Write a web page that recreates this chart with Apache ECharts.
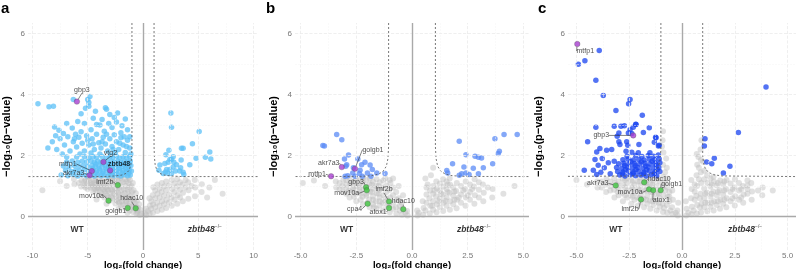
<!DOCTYPE html>
<html>
<head>
<meta charset="utf-8">
<script src="https://cdn.jsdelivr.net/npm/echarts@6/dist/echarts.min.js"></script>
<style>
  html, body { margin: 0; padding: 0; background: #fff; }
  #chart { width: 799px; height: 269px; }
</style>
</head>
<body>
<div id="chart"></div>
<script>
// ---- tick labels ----
var aXTicks = [-10, -5, 0, 5, 10];
var aXMinor = [-7.5, -2.5, 2.5, 7.5];
var bcXTicks = [-5, -2.5, 0, 2.5, 5];
var bcXMinor = [-3.75, -1.25, 1.25, 3.75];
var yTicks = [0, 2, 4, 6];
var yMinor = [1, 3, 5];

// ---- panel a ----
var aGrey = [
  [-0.3,0.05],[-0.25,0.22],[-0.35,0.4],[-0.15,0.1],[-0.5,0.12],[-0.6,0.1],[-0.62,0.32],[-0.55,0.52],[-0.65,0.76],
  [-0.9,0.15],[-0.88,0.36],[-0.95,0.6],[-0.85,0.86],[-0.92,1.1],[-1.2,0.2],[-1.25,0.46],[-1.15,0.7],[-1.22,0.96],[-1.18,1.2],
  [-1.6,0.28],[-1.55,0.5],[-1.65,0.76],[-1.58,1.0],[-1.62,1.22],[-2.0,0.36],[-2.05,0.6],[-1.95,0.86],[-2.02,1.1],[-2.08,1.26],
  [-2.5,0.43],[-2.45,0.66],[-2.55,0.9],[-2.48,1.12],[-2.52,1.27],[-3.0,0.52],[-2.95,0.76],[-3.05,0.98],[-3.0,1.2],
  [-3.5,0.62],[-3.45,0.83],[-3.55,1.05],[-3.5,1.24],[-4.0,0.7],[-4.05,0.92],[-3.95,1.12],[-4.0,1.26],
  [-4.5,0.8],[-4.55,1.0],[-4.45,1.2],[-5.0,0.9],[-5.05,1.08],[-4.95,1.25],[-5.6,0.98],[-5.55,1.18],[-6.2,1.06],[-6.25,1.23],
  [-6.9,1.0],[-9.1,0.86],[-7.5,1.16],[-4.2,0.56],[-3.3,0.42],[-2.2,0.25],[-1.4,0.12],
  [-1.8,0.4],[-2.3,0.5],[-2.75,0.6],[-3.25,0.68],[-3.75,0.78],[-4.25,0.86],[-4.75,0.95],[-5.3,1.02],
  [-1.4,0.64],[-1.85,0.72],[-2.25,0.78],[-2.75,0.84],[-3.25,0.9],[-3.75,0.96],[-4.25,1.04],[-4.75,1.1],[-5.3,1.15],
  [-1.4,0.88],[-1.8,1.12],[-2.25,1.0],[-2.75,1.04],[-3.25,1.1],[-3.75,1.16],[-4.3,1.2],[-2.3,1.18],[-2.8,1.22],
  [-1.1,0.55],[-0.75,0.45],[-0.45,0.28],
  [-0.5,0.2],[-0.7,0.25],[-0.8,0.55],[-1.0,0.3],[-1.0,0.8],[-1.05,1.0],[-1.3,0.35],[-1.35,0.8],[-1.3,1.1],[-1.5,0.45],
  [-1.7,0.6],[-1.75,0.9],[-1.5,1.15],[-1.9,0.5],[-2.15,0.45],[-2.15,0.7],[-2.15,0.95],[-2.4,0.55],[-2.6,0.75],[-2.4,0.85],
  [-2.65,1.15],[-2.9,0.65],[-2.9,0.9],[-3.1,0.6],[-3.15,0.85],[-3.4,0.75],[-3.4,0.95],[-3.6,0.9],[-3.65,1.12],[-3.9,0.82],
  [-3.9,1.02],[-4.15,0.95],[-4.4,0.9],[-4.4,1.1],[-4.65,1.05],[-4.85,1.18],[-5.2,0.95],[-5.2,1.2],[-5.8,1.1],[-3.0,1.28],
  [-2.0,1.29],[-1.3,1.28],
  [0.3,0.05],[0.28,0.25],[0.15,0.1],[0.6,0.1],[0.62,0.35],[0.58,0.6],[0.9,0.12],[0.92,0.4],[0.88,0.7],[0.94,0.96],
  [1.3,0.18],[1.28,0.45],[1.32,0.75],[1.3,1.05],[1.7,0.22],[1.72,0.5],[1.68,0.8],[1.7,1.1],
  [2.1,0.28],[2.12,0.55],[2.08,0.86],[2.1,1.15],[2.6,0.35],[2.58,0.62],[2.62,0.9],[2.6,1.2],
  [3.1,0.42],[3.12,0.7],[3.08,0.98],[3.1,1.23],[3.6,0.5],[3.62,0.78],[3.58,1.05],[4.1,0.58],[4.12,0.86],[4.08,1.12],
  [4.7,0.66],[4.72,0.95],[4.68,1.2],[5.3,0.8],[5.32,1.06],[6.0,0.95],[7.2,0.75],[6.5,1.2],[5.8,0.62],
  [1.1,0.3],[1.5,0.35],[1.9,0.4],[2.35,0.46],[2.85,0.55],[3.35,0.62],[1.5,0.62],[1.9,0.68],[2.35,0.72],[2.85,0.8],
  [3.35,0.88],[3.85,0.95],[1.5,0.92],[1.9,0.98],[2.35,1.02],[2.85,1.08],[3.35,1.12],[3.85,1.2],[4.4,1.0],
  [0.45,0.18],[0.75,0.25],[0.75,0.5],[1.1,0.6],[1.1,0.85]
];
var aBlue = [
  [-9.5,3.7],[-8.5,3.6],[-8.1,3.62],[-6.3,3.84],[-4.8,3.94],[-5.0,3.84],[-4.9,3.74],[-4.9,3.62],[-5.6,3.37],[-3.4,3.57],
  [-3.3,3.52],[-2.3,3.4],[-3.9,3.0],[-1.2,2.62],[-8.0,2.94],[-7.6,2.83],[-6.9,3.05],[-6.4,2.9],[-5.9,3.12],[-5.3,3.05],
  [-4.5,3.22],[-4.2,3.02],[-3.7,3.18],[-3.1,3.05],[-2.8,2.92],[-2.4,3.1],[-1.9,2.98],[-1.6,3.2],[-5.6,2.78],[-4.7,2.85],
  [-3.5,2.8],[-2.0,2.75],[-7.2,2.72],[-6.1,2.7],[-1.4,2.85],[-4.3,3.45],[-3.0,3.35],[-2.6,3.25],[-5.2,3.55],
  [-8.2,2.45],[-7.8,2.2],[-7.5,2.55],[-7.1,2.35],[-6.8,2.62],[-6.6,2.15],[-6.3,2.45],[-6.0,2.28],[-5.8,2.6],[-5.5,2.4],
  [-5.3,2.15],[-5.1,2.65],[-4.9,2.35],[-4.6,2.55],[-4.4,2.2],[-4.2,2.7],[-4.0,2.42],[-3.8,2.25],[-3.6,2.6],[-3.4,2.38],
  [-3.2,2.15],[-3.0,2.55],[-2.8,2.3],[-2.6,2.68],[-2.4,2.45],[-2.2,2.2],[-2.0,2.58],[-1.8,2.35],[-1.6,2.1],[-1.4,2.5],
  [-1.2,2.25],[-1.1,2.05],[-7.3,2.05],[-6.9,1.95],[-5.7,2.05],[-4.7,2.08],[-3.9,2.05],[-2.9,2.02],[-2.5,2.1],[-1.5,2.3],
  [-6.2,2.55],[-5.0,2.5],[-3.3,2.7],[-2.1,2.4],[-1.7,2.62],[-8.6,2.25],[-7.9,2.65],[-4.5,2.38],[-3.7,2.45],[-2.7,2.2],
  [-7.4,1.36],[-6.8,1.34],[-6.3,1.38],[-5.9,1.33],[-5.5,1.37],[-5.1,1.34],[-4.7,1.36],[-4.4,1.33],[-4.1,1.37],[-3.8,1.34],
  [-3.5,1.36],[-3.2,1.33],[-2.9,1.37],[-2.6,1.34],[-2.3,1.36],[-2.0,1.33],[-1.7,1.37],[-1.4,1.34],[-1.15,1.36],
  [-7.0,1.52],[-6.5,1.48],[-6.1,1.51],[-5.7,1.49],[-5.3,1.53],[-4.9,1.48],[-4.5,1.52],[-4.2,1.49],[-3.9,1.51],[-3.6,1.48],
  [-3.3,1.52],[-3.0,1.5],[-2.7,1.48],[-2.4,1.52],[-2.1,1.49],[-1.8,1.51],[-1.5,1.48],[-1.25,1.52],[-1.05,1.49],
  [-7.2,1.66],[-6.7,1.63],[-6.2,1.67],[-5.8,1.64],[-5.4,1.66],[-5.0,1.63],[-4.6,1.67],[-4.3,1.64],[-4.0,1.66],[-3.7,1.63],
  [-3.4,1.67],[-3.1,1.64],[-2.8,1.66],[-2.5,1.63],[-2.2,1.67],[-1.9,1.64],[-1.6,1.66],[-1.3,1.63],[-1.1,1.67],
  [-6.9,1.79],[-6.4,1.82],[-5.9,1.78],[-5.5,1.81],[-5.1,1.79],[-4.7,1.82],[-4.4,1.78],[-4.1,1.81],[-3.8,1.79],[-3.5,1.82],
  [-3.2,1.78],[-2.9,1.81],[-2.6,1.79],[-2.3,1.82],[-2.0,1.78],[-1.7,1.81],[-1.4,1.79],[-1.15,1.82],
  [-6.0,1.95],[-5.3,1.97],[-4.9,1.93],[-4.5,1.96],[-4.2,1.94],[-3.7,1.97],[-3.3,1.93],[-3.0,1.96],[-2.7,1.94],[-2.4,1.97],
  [-2.1,1.93],[-1.8,1.96],[-1.5,1.94],[-1.2,1.97],
  [-4.85,1.42],[-4.25,1.43],[-3.65,1.42],[-3.05,1.43],[-2.45,1.42],[-1.85,1.43],[-1.3,1.42],[-4.55,1.58],[-3.95,1.57],
  [-3.35,1.58],[-2.75,1.57],[-2.15,1.58],[-1.55,1.57],[-4.25,1.72],[-3.65,1.73],[-3.05,1.72],[-2.45,1.73],[-1.85,1.72],[-1.25,1.73],
  [2.52,3.4],[2.58,2.93],[5.08,2.79],[4.47,2.39],[3.48,2.24],[3.63,2.24],[2.34,2.17],[6.04,2.12],[2.07,2.03],[2.73,1.96],
  [4.8,1.91],[5.64,1.94],[6.13,1.89],[2.58,1.87],[3.45,1.85],[2.28,1.78],[1.98,1.74],[2.79,1.78],[4.23,1.7],[1.53,1.69],
  [3.03,1.7],[2.73,1.62],[2.13,1.54],[2.43,1.54],[2.94,1.49],[3.33,1.49],[3.63,1.45],[2.04,1.46],[2.28,1.41],[2.58,1.41],
  [3.69,1.38],[1.83,1.41],[1.44,1.52],[2.43,1.87],[3.4,1.6]
];
var aPurple = [[-5.98,3.77,'gbp3'],[-3.58,1.79,'vtg2'],[-2.97,1.51,'zbtb48'],[-4.63,1.49,'mtfp1'],[-4.83,1.35,'akr7a3']];
var aGreen = [[-2.28,1.03,'lmf2b'],[-3.12,0.52,'mov10a'],[-0.66,0.27,'hdac10'],[-1.38,0.28,'golgb1']];
var aCurveL = [[-1,6.35],[-1,2.3],[-1.03,1.95],[-1.1,1.7],[-1.25,1.52],[-1.5,1.42],[-1.9,1.36],[-2.5,1.33],[-3.5,1.31],[-12,1.31]];
var aCurveR = [[1,6.35],[1,2.3],[1.03,1.95],[1.1,1.7],[1.25,1.52],[1.5,1.42],[1.9,1.36],[2.5,1.33],[3.5,1.31],[10.4,1.31]];

// ---- panel b ----
var bGrey = [
  [-0.2,0.03],[-0.22,0.18],[-0.45,0.06],[-0.43,0.25],[-0.47,0.45],[-0.7,0.1],[-0.72,0.3],[-0.68,0.55],[-0.71,0.8],
  [-1.0,0.14],[-1.02,0.38],[-0.98,0.62],[-1.01,0.88],[-0.97,1.1],[-1.3,0.2],[-1.32,0.45],[-1.28,0.7],[-1.31,0.95],[-1.29,1.18],
  [-1.6,0.25],[-1.62,0.5],[-1.58,0.76],[-1.61,1.0],[-1.59,1.22],[-1.9,0.3],[-1.92,0.56],[-1.88,0.82],[-1.91,1.06],[-1.89,1.25],
  [-2.2,0.4],[-2.22,0.65],[-2.18,0.9],[-2.21,1.12],[-2.19,1.27],[-2.5,0.5],[-2.52,0.75],[-2.48,0.98],[-2.51,1.2],
  [-2.8,0.62],[-2.82,0.85],[-2.78,1.08],[-2.81,1.26],[-3.1,0.8],[-3.12,1.0],[-3.08,1.2],[-3.4,0.95],[-3.42,1.15],
  [-3.9,1.0],[-4.4,1.18],[-4.9,1.1],
  [-1.15,0.58],[-1.45,0.62],[-1.75,0.66],[-2.05,0.75],[-2.35,0.82],[-2.65,0.9],[-1.45,0.88],[-1.75,0.92],[-2.05,0.98],
  [-2.35,1.05],[-2.65,1.12],[-2.95,1.05],[-1.15,0.32],[-1.45,0.36],[-1.75,0.4],[-0.85,0.45],[-0.55,0.35],[-1.15,1.02],
  [-1.45,1.12],[-1.75,1.15],[-2.05,1.2],[-2.95,0.75],[-0.85,0.7],[-0.6,1.0],[-0.4,0.7],[-0.85,1.25],
  [-0.3,0.12],[-0.55,0.2],[-0.6,0.6],[-0.85,0.25],[-0.85,0.95],[-1.15,0.8],[-1.2,0.5],[-1.45,0.5],[-1.5,0.75],[-1.5,1.0],
  [-1.7,0.3],[-1.75,0.55],[-1.8,0.8],[-1.8,1.05],[-2.0,0.45],[-2.05,0.68],[-2.05,0.9],[-2.3,0.55],[-2.3,0.75],[-2.35,0.95],
  [-2.35,1.2],[-2.6,0.65],[-2.65,0.82],[-2.6,1.0],[-2.95,0.92],[-2.95,1.2],[-3.25,0.9],[-3.25,1.1],[-1.2,1.25],[-1.0,1.2],
  [0.25,0.03],[0.23,0.2],[0.5,0.06],[0.52,0.28],[0.48,0.5],[0.8,0.1],[0.82,0.35],[0.78,0.6],[0.81,0.85],
  [1.1,0.14],[1.12,0.4],[1.08,0.66],[1.11,0.92],[1.09,1.15],[1.4,0.18],[1.42,0.45],[1.38,0.72],[1.41,0.98],[1.39,1.22],
  [1.7,0.22],[1.72,0.5],[1.68,0.78],[1.71,1.04],[1.69,1.25],[2.0,0.27],[2.02,0.55],[1.98,0.84],[2.01,1.1],
  [2.4,0.35],[2.42,0.62],[2.38,0.9],[2.41,1.15],[2.8,0.42],[2.82,0.7],[2.78,0.98],[2.81,1.22],
  [3.2,0.5],[3.22,0.78],[3.18,1.05],[3.6,0.62],[3.62,0.9],[4.1,0.75],[4.6,1.0],
  [0.95,0.22],[1.25,0.3],[1.55,0.35],[1.85,0.4],[2.2,0.45],[2.6,0.55],[3.0,0.62],[0.95,0.5],[1.25,0.58],[1.55,0.62],
  [1.85,0.68],[2.2,0.72],[2.6,0.8],[3.0,0.88],[3.4,0.95],[0.95,0.75],[1.25,0.85],[1.55,0.9],[1.85,0.95],[2.2,1.0],
  [2.6,1.05],[3.0,1.12],[0.65,0.45],[0.65,0.72],[0.95,1.0],[1.25,1.08],[1.55,1.15],[0.7,1.05],[0.85,1.35],[0.95,1.6],[0.6,1.25],
  [0.3,0.12],[0.6,0.2],[0.65,0.95],[0.9,0.35],[1.0,0.85],[1.2,0.5],[1.3,0.75],[1.5,0.52],[1.6,0.8],[1.6,1.05],
  [1.9,0.55],[1.9,0.82],[2.1,0.62],[2.3,0.85],[2.5,0.7],[2.7,0.9]
];
var bBlue = [
  [-3.38,2.69],[-3.15,2.52],[-4.0,2.33],[-3.93,2.31],[-2.85,2.02],[-3.03,1.89],[-2.43,1.89],[-2.11,1.78],[-2.26,1.7],
  [-2.93,1.7],[-2.97,1.65],[-1.88,1.69],[-2.63,1.6],[-2.33,1.52],[-1.78,1.54],[-1.58,1.43],[-1.21,1.41],[-3.0,1.32],
  [-2.88,1.34],[-2.56,1.32],[-2.36,1.41],[-2.23,1.32],[-2.0,1.43],[-1.84,1.32],[-2.66,1.43],
  [2.12,2.47],[4.13,2.69],[4.72,2.69],[3.72,2.55],[3.87,2.07],[3.92,2.14],[2.42,2.03],[2.83,1.98],[2.98,1.94],[3.12,1.92],
  [1.82,1.73],[3.62,1.73],[2.33,1.62],[2.75,1.58],[3.2,1.6],[1.56,1.51],[1.6,1.43],[2.23,1.4],[2.42,1.43],[2.56,1.38],
  [2.98,1.4],[2.12,1.35]
];
var bPurple = [[-3.15,1.62,'akr7a3'],[-2.56,1.57,'golgb1'],[-3.63,1.32,'mtfp1']];
var bGreen = [[-2.06,0.96,'gbp3'],[-2.03,0.86,'mov10a'],[-1.03,0.49,'lmf2b'],[-0.39,0.24,'hdac10'],[-1.03,0.28,'atox1'],[-1.99,0.42,'cpa4']];
var bCurveL = [[-1.05,6.35],[-1.05,2.3],[-1.08,1.9],[-1.15,1.65],[-1.3,1.48],[-1.5,1.39],[-1.8,1.34],[-2.3,1.315],[-6.6,1.31]];
var bCurveR = [[1.05,6.35],[1.05,2.3],[1.08,1.9],[1.15,1.65],[1.3,1.48],[1.5,1.39],[1.8,1.34],[2.3,1.315],[5.25,1.31]];

// ---- panel c ----
var cGrey = [
  [-0.2,0.03],[-0.22,0.2],[-0.18,0.45],[-0.45,0.08],[-0.47,0.3],[-0.43,0.55],[-0.46,0.85],
  [-0.7,0.12],[-0.72,0.38],[-0.68,0.65],[-0.71,0.95],[-0.69,1.25],[-0.72,1.6],
  [-0.9,0.15],[-0.92,0.42],[-0.88,0.7],[-0.91,1.0],[-0.89,1.3],[-0.9,1.7],[-0.88,2.1],[-0.92,2.5],[-0.9,2.8],
  [-1.2,0.2],[-1.22,0.48],[-1.18,0.75],[-1.21,1.02],[-1.19,1.25],[-1.5,0.25],[-1.52,0.52],[-1.48,0.8],[-1.51,1.08],[-1.49,1.28],
  [-1.8,0.3],[-1.82,0.58],[-1.78,0.85],[-1.81,1.12],[-1.79,1.27],[-2.1,0.35],[-2.12,0.62],[-2.08,0.9],[-2.11,1.15],
  [-2.4,0.42],[-2.42,0.7],[-2.38,0.96],[-2.41,1.2],[-2.8,0.5],[-2.82,0.78],[-2.78,1.03],[-2.81,1.24],
  [-3.2,0.62],[-3.22,0.88],[-3.18,1.1],[-3.21,1.26],[-3.6,0.8],[-3.62,1.05],[-3.58,1.22],[-4.0,0.95],[-4.02,1.15],[-4.5,1.05],[-5.0,1.2],
  [-1.05,0.32],[-1.35,0.38],[-1.65,0.42],[-1.95,0.46],[-2.25,0.55],[-2.6,0.62],[-1.05,0.6],[-1.35,0.65],[-1.65,0.68],
  [-1.95,0.72],[-2.25,0.78],[-2.6,0.85],[-3.0,0.92],[-1.05,0.88],[-1.35,0.92],[-1.65,0.98],[-1.95,1.02],[-2.25,1.05],
  [-2.6,1.1],[-3.0,1.15],[-3.4,1.0],[-1.05,1.15],[-1.35,1.18],[-1.65,1.2],[-2.6,1.26],[-3.0,0.7],[-0.6,0.5],[-0.6,0.8],
  [-0.8,1.12],[-0.8,1.45],[-0.75,1.9],[-0.95,2.3],
  [-0.3,0.12],[-0.55,0.2],[-0.6,0.65],[-0.85,0.28],[-0.8,0.85],[-1.1,0.45],[-1.1,0.75],[-1.4,0.5],[-1.4,0.8],[-1.4,1.05],
  [-1.7,0.55],[-1.7,0.85],[-1.7,1.1],[-2.0,0.6],[-2.0,0.85],[-2.0,1.15],[-2.35,0.65],[-2.35,0.9],[-2.35,1.15],[-2.7,0.7],
  [-2.7,0.95],[-2.7,1.2],[-3.05,0.8],[-3.05,1.02],[-3.4,0.85],[-3.4,1.15],[-3.8,0.95],[-3.8,1.15],[-1.2,1.28],[-2.0,1.28],
  [0.2,0.03],[0.22,0.25],[0.18,0.5],[0.45,0.07],[0.47,0.32],[0.43,0.6],[0.46,0.9],[0.44,1.2],
  [0.7,0.1],[0.72,0.38],[0.68,0.68],[0.71,1.0],[0.69,1.35],[0.72,1.7],[0.7,2.05],
  [0.9,0.13],[0.92,0.42],[0.88,0.75],[0.91,1.1],[0.89,1.45],[0.9,1.85],[0.88,2.2],[0.92,2.5],
  [1.2,0.17],[1.22,0.45],[1.18,0.78],[1.21,1.1],[1.19,1.35],[1.5,0.2],[1.52,0.5],[1.48,0.82],[1.51,1.15],[1.49,1.3],
  [1.8,0.25],[1.82,0.55],[1.78,0.86],[1.81,1.18],[2.1,0.3],[2.12,0.6],[2.08,0.9],[2.11,1.2],
  [2.5,0.36],[2.52,0.66],[2.48,0.95],[2.51,1.22],[2.9,0.45],[2.92,0.72],[2.88,1.0],
  [3.3,0.55],[3.32,0.82],[3.28,1.1],[3.8,0.7],[3.82,0.95],[4.3,0.85],
  [1.05,0.3],[1.35,0.32],[1.65,0.38],[1.95,0.42],[2.3,0.5],[2.7,0.55],[1.05,0.6],[1.35,0.65],[1.65,0.7],[1.95,0.72],
  [2.3,0.8],[2.7,0.85],[3.1,0.9],[1.05,0.92],[1.35,0.98],[1.65,1.02],[1.95,1.05],[2.3,1.08],[2.7,1.1],[3.1,1.18],
  [1.05,1.22],[1.35,1.25],[0.6,0.55],[0.6,0.82],[0.8,1.22],[0.8,1.6],[0.78,1.95],[1.05,1.5],[1.0,1.8],
  [0.3,0.12],[0.55,0.2],[0.6,1.05],[0.85,0.3],[0.85,0.6],[1.1,0.45],[1.1,0.75],[1.4,0.45],[1.4,0.75],[1.4,1.05],
  [1.7,0.5],[1.7,0.8],[1.7,1.1],[2.0,0.55],[2.0,0.85],[2.0,1.15],[2.4,0.6],[2.4,0.9],[2.8,0.62],[2.8,0.9],[3.1,0.75],[3.1,1.02],[3.6,0.85]
];
var cBlue = [
  [-3.92,5.45],[-4.6,5.11],[-4.91,5.0],[-4.08,4.47],[-3.73,3.97],[-2.46,3.84],[-2.53,3.7],[-3.13,3.48],[-1.88,3.32],
  [-2.18,3.02],[-2.73,2.98],[-2.89,2.96],[-3.21,2.96],[-4.08,2.93],[-2.31,2.93],[-1.55,2.91],[-2.46,2.85],[-2.38,2.72],
  [-2.19,3.03],[-2.99,2.74],[-2.54,2.74],[-1.83,2.76],[-1.23,2.58],[-3.07,2.63],[-4.47,2.45],[-2.99,2.45],[-2.62,2.45],
  [-2.94,2.36],[-2.57,2.34],[-1.25,2.6],[-1.31,2.44],[-1.12,2.31],[-2.04,2.36],[-1.08,2.34],[-3.89,2.23],[-3.57,2.17],
  [-3.33,2.2],[-2.65,2.14],[-2.38,2.11],[-2.07,2.09],[-1.52,2.09],[-4.04,2.12],[-4.12,1.87],[-3.78,1.9],[-3.49,1.76],
  [-3.21,1.81],[-3.97,1.68],[-3.68,1.6],[-4.2,1.52],[-3.84,1.45],[-4.63,1.52],[-4.04,1.38],[-3.4,1.4],
  [-2.95,1.36],[-2.7,1.33],[-2.45,1.37],[-2.2,1.34],[-1.95,1.36],[-1.7,1.33],[-1.45,1.37],[-1.2,1.34],
  [-3.05,1.48],[-2.8,1.46],[-2.55,1.49],[-2.3,1.46],[-2.05,1.48],[-1.8,1.45],[-1.55,1.49],[-1.3,1.46],[-1.05,1.48],
  [-3.1,1.61],[-2.85,1.58],[-2.6,1.62],[-2.35,1.59],[-2.1,1.61],[-1.85,1.58],[-1.6,1.62],[-1.35,1.59],[-1.1,1.61],
  [-3.0,1.73],[-2.75,1.75],[-2.5,1.72],[-2.25,1.74],[-2.0,1.72],[-1.75,1.75],[-1.5,1.72],[-1.25,1.74],[-1.05,1.76],
  [-2.8,1.86],[-2.55,1.88],[-2.3,1.85],[-2.05,1.87],[-1.8,1.85],[-1.55,1.88],[-1.3,1.86],[-1.08,1.89],
  [-2.6,1.98],[-2.2,2.0],[-1.9,1.97],[-1.6,2.0],[-1.35,1.98],[-1.12,2.02],
  [-2.82,1.4],[-2.32,1.41],[-1.82,1.4],[-1.32,1.41],[-2.68,1.54],[-2.18,1.54],[-1.68,1.53],[-1.18,1.54],
  [-2.72,1.67],[-2.22,1.67],[-1.72,1.66],[-1.22,1.68],[-2.42,1.8],[-1.92,1.8],[-1.42,1.81],
  [3.98,4.25],[2.67,2.76],[1.09,2.55],[1.06,2.31],[1.17,1.79],[1.53,1.91],[1.41,1.73],[2.27,1.65],[1.96,1.43]
];
var cPurple = [[-4.96,5.66,'mtfp1'],[-2.31,2.66,'gbp3']];
var cGreen = [[-3.14,1.02,'akr7a3'],[-1.79,1.12,'hdac10'],[-1.56,0.89,'mov10a'],[-1.36,0.86,'atox1'],[-1.01,0.86,'golgb1'],[-1.94,0.56,'lmf2b']];
var cCurveL = [[-1.0,6.35],[-1.0,2.2],[-1.04,1.85],[-1.12,1.62],[-1.28,1.46],[-1.55,1.37],[-2.0,1.33],[-7.2,1.31]];
var cCurveR = [[0.98,6.35],[0.98,2.0],[1.02,1.75],[1.1,1.58],[1.25,1.45],[1.5,1.37],[1.9,1.33],[5.4,1.31]];

// group labels
var groupLabels = [[-5.95,-0.43,'WT'],[5.6,-0.43,'ko']];
var groupLabelsB = [[-2.93,-0.43,'WT'],[2.78,-0.43,'ko']];
var groupLabelsC = [[-3.13,-0.43,'WT'],[2.99,-0.43,'ko']];

// ---- layout ----
var FONT = 'Liberation Sans, Arial, sans-serif';
var panels = [
  {grid: {left: 28, width: 230}, xr: 10.4, ticks: aXTicks, minor: aXMinor, fmt: function (v) { return String(v); },
   grey: aGrey, blue: aBlue, blueColor: '#5cc0f7', purple: aPurple, green: aGreen, curves: [aCurveL, aCurveR], groups: groupLabels, yGap: 16,
   off: {gbp3: [5, -12], vtg2: [7, -9], zbtb48: [9, -6], mtfp1: [-24, -7], akr7a3: [-16, -2], lmf2b: [-13, -3], mov10a: [-17, -5], hdac10: [-4, -10], golgb1: [-12, 3]}},
  {grid: {left: 295, width: 234}, xr: 5.25, ticks: bcXTicks, minor: bcXMinor, fmt: function (v) { return v.toFixed(1); },
   grey: bGrey, blue: bBlue, blueColor: '#5b8bf5', purple: bPurple, green: bGreen, curves: [bCurveL, bCurveR], groups: groupLabelsB, yGap: 16,
   off: {golgb1: [18, -19], akr7a3: [-13, -4], mtfp1: [-14, -2], gbp3: [-10, -5], mov10a: [-20, 3], lmf2b: [-5, -12], hdac10: [0, -8], cpa4: [-13, 5], atox1: [-11, 4]}},
  {grid: {left: 568, width: 228}, xr: 5.4, ticks: bcXTicks, minor: bcXMinor, fmt: function (v) { return v.toFixed(1); },
   grey: cGrey, blue: cBlue, blueColor: '#1a44f0', purple: cPurple, green: cGreen, curves: [cCurveL, cCurveR], groups: groupLabelsC, yGap: 24,
   off: {mtfp1: [8, 7], gbp3: [-32, 0], akr7a3: [-18, -2], hdac10: [15, -3], mov10a: [-19, 3], atox1: [8, 10], golgb1: [11, -6], lmf2b: [-11, 10]}}
];

var grids = [], xAxes = [], yAxes = [], series = [];

panels.forEach(function (p, i) {
  grids.push({left: p.grid.left, width: p.grid.width, top: 23, height: 227, outerBoundsMode: 'none', containLabel: false});
  xAxes.push({
    type: 'value', gridIndex: i, min: -p.xr, max: p.xr,
    name: 'log\u2082(fold change)', nameLocation: 'middle', nameGap: 10, nameMoveOverlap: false,
    nameTextStyle: {fontFamily: FONT, fontSize: 9.5, fontWeight: 'bold', color: '#000', verticalAlign: 'top'},
    axisLine: {show: false}, axisTick: {show: false}, splitLine: {show: false},
    axisLabel: {customValues: p.ticks, formatter: p.fmt, fontFamily: FONT, fontSize: 8, color: '#777', margin: 2}
  });
  yAxes.push({
    type: 'value', gridIndex: i, min: -1.1, max: 6.35,
    name: '\u2212log\u2081\u2080(p\u2212value)', nameLocation: 'middle', nameGap: p.yGap, nameRotate: 90, nameMoveOverlap: false,
    nameTextStyle: {fontFamily: FONT, fontSize: 11, fontWeight: 'bold', color: '#000'},
    axisLine: {show: false}, axisTick: {show: false}, splitLine: {show: false},
    axisLabel: {customValues: yTicks, fontFamily: FONT, fontSize: 8, color: '#777', margin: 3}
  });

  var gridMarks = [];
  p.ticks.forEach(function (v) { gridMarks.push({xAxis: v, lineStyle: {color: '#ebebeb', width: 0.8}}); });
  p.minor.forEach(function (v) { gridMarks.push({xAxis: v, lineStyle: {color: '#f4f4f4', width: 0.5}}); });
  yTicks.forEach(function (v) { gridMarks.push({yAxis: v, lineStyle: {color: '#ebebeb', width: 0.8}}); });
  yMinor.forEach(function (v) { gridMarks.push({yAxis: v, lineStyle: {color: '#f4f4f4', width: 0.5}}); });

  series.push({
    type: 'scatter', xAxisIndex: i, yAxisIndex: i, data: [], z: 0, silent: true,
    markLine: {silent: true, symbol: 'none', label: {show: false}, animation: false, data: gridMarks}
  });
  series.push({
    type: 'scatter', xAxisIndex: i, yAxisIndex: i, data: p.grey, z: 2, silent: true,
    symbolSize: 6, itemStyle: {color: '#bcbcbc', opacity: 0.45}
  });
  series.push({
    type: 'scatter', xAxisIndex: i, yAxisIndex: i, data: p.blue, z: 3, silent: true,
    symbolSize: 5.5, itemStyle: {color: p.blueColor, opacity: 0.75}
  });
  series.push({
    type: 'scatter', xAxisIndex: i, yAxisIndex: i, data: [], z: 4, silent: true,
    markLine: {silent: true, symbol: 'none', label: {show: false}, animation: false,
      lineStyle: {color: '#a9a9a9', width: 1.4, type: 'solid'}, data: [{xAxis: 0}, {yAxis: 0}]}
  });
  p.curves.forEach(function (c) {
    series.push({
      type: 'line', xAxisIndex: i, yAxisIndex: i, data: c, z: 4, silent: true, clip: false,
      symbol: 'none', lineStyle: {color: '#555', width: 0.8, type: [2, 2]}
    });
  });

  function hl(arr, color) {
    return {
      type: 'scatter', xAxisIndex: i, yAxisIndex: i, z: 6, silent: true, symbolSize: 5.5,
      data: arr.map(function (d) {
        return {value: [d[0], d[1]], name: d[2],
          label: {fontWeight: d[2] === 'zbtb48' ? 'bold' : 'normal', color: d[2] === 'zbtb48' ? '#000' : '#222'}};
      }),
      itemStyle: {color: color, borderColor: '#555', borderWidth: 0.4},
      label: {show: true, position: 'inside', formatter: '{b}', fontFamily: FONT, fontSize: 7},
      labelLayout: function (params) {
        var o = p.off[params.text] || [0, 0];
        return {dx: o[0], dy: o[1]};
      },
      labelLine: {show: true, lineStyle: {color: '#333', width: 0.6}}
    };
  }
  series.push(hl(p.purple, '#a73fcf'));
  series.push(hl(p.green, '#3ec43e'));

  series.push({
    type: 'scatter', xAxisIndex: i, yAxisIndex: i, z: 6, silent: true, symbolSize: 0,
    data: p.groups,
    label: {
      show: true, position: 'inside', fontFamily: FONT,
      formatter: function (q) { return q.value[2] === 'WT' ? '{w|WT}' : '{k|zbtb48}{s|\u2212/\u2212}'; },
      rich: {
        w: {fontSize: 8.5, fontWeight: 'bold', color: '#000', fontFamily: FONT},
        k: {fontSize: 8.5, fontWeight: 'bold', fontStyle: 'italic', color: '#000', fontFamily: FONT},
        s: {fontSize: 5, color: '#000', fontFamily: FONT, padding: [0, 0, 5, 0]}
      }
    }
  });
});

var chart = echarts.init(document.getElementById('chart'), null, {renderer: 'canvas'});
chart.setOption({
  animation: false,
  backgroundColor: '#fff',
  grid: grids,
  xAxis: xAxes,
  yAxis: yAxes,
  series: series,
  graphic: [
    {type: 'text', left: 1, top: 1, style: {text: 'a', font: 'bold 15px ' + FONT, fill: '#000'}},
    {type: 'text', left: 266, top: 1, style: {text: 'b', font: 'bold 15px ' + FONT, fill: '#000'}},
    {type: 'text', left: 538, top: 1, style: {text: 'c', font: 'bold 15px ' + FONT, fill: '#000'}}
  ]
});
</script>
</body>
</html>
